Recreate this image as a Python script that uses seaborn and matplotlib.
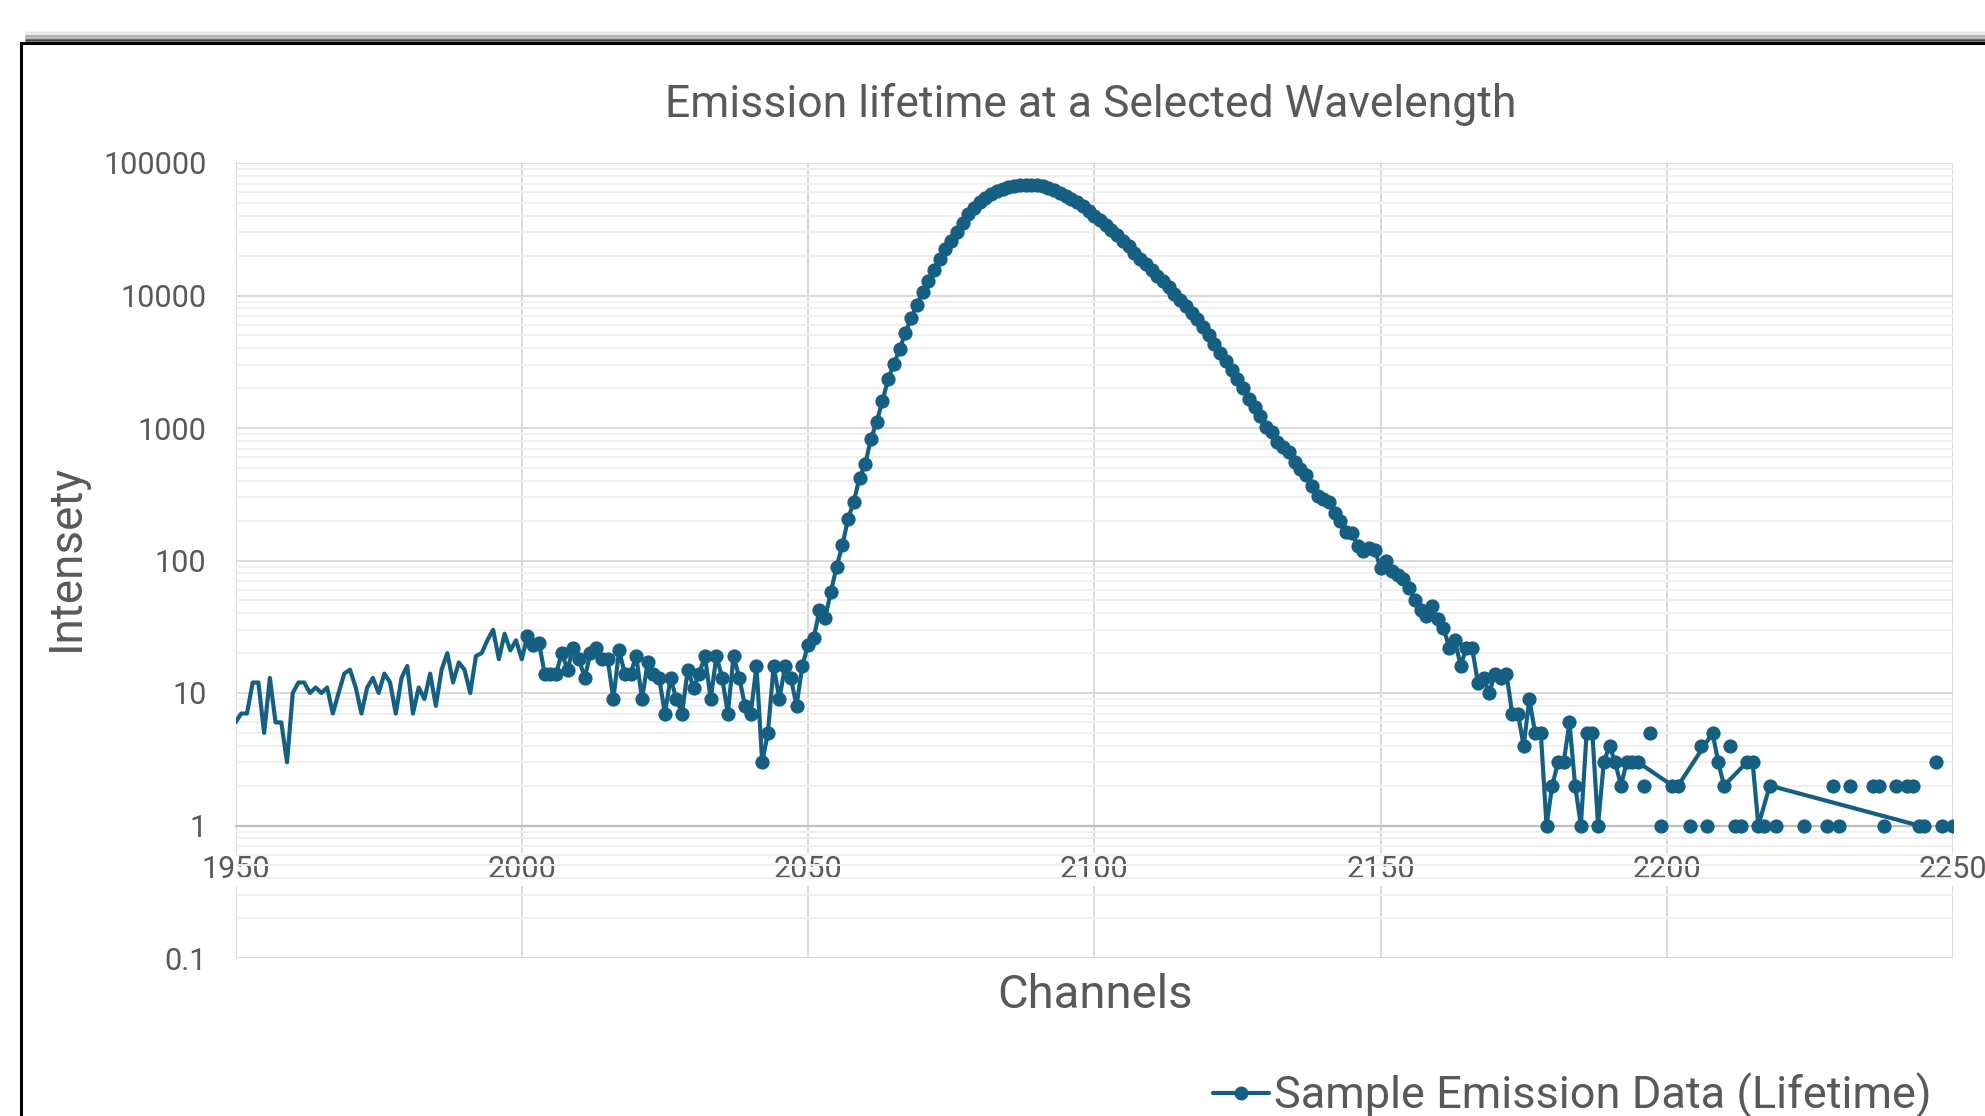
import numpy as np
import pandas as pd
import matplotlib
matplotlib.use("Agg")
import matplotlib.pyplot as plt
from matplotlib.lines import Line2D
from matplotlib.patches import Rectangle
from matplotlib.ticker import FixedLocator, FuncFormatter, LogLocator, NullFormatter
import seaborn as sns

# channel axis: one bin per channel, 1950..2250
channels = list(range(1950, 2251))

# photon counts per channel (0 = empty bin, not drawn on log axis)
counts = [
    6, 7, 7, 12, 12, 5, 13, 6, 6, 3,                      # 1950
    10, 12, 12, 10, 11, 10, 11, 7, 10, 14,                # 1960
    15, 11, 7, 11, 13, 10, 14, 12, 7, 13,                 # 1970
    16, 7, 11, 9, 14, 8, 15, 20, 12, 17,                  # 1980
    15, 10, 19, 20, 25, 30, 18, 28, 21, 25,               # 1990
    18, 27, 23, 24, 14, 14, 14, 20, 15, 22,               # 2000
    18, 13, 20, 22, 18, 18, 9, 21, 14, 14,                # 2010
    19, 9, 17, 14, 13, 7, 13, 9, 7, 15,                   # 2020
    11, 14, 19, 9, 19, 13, 7, 19, 13, 8,                  # 2030
    7, 16, 3, 5, 16, 9, 16, 13, 8, 16,                    # 2040
    23, 26, 42, 37, 58, 90, 130, 207, 277, 423,           # 2050
    533, 832, 1112, 1603, 2337, 3034, 3938, 5200, 6714, 8460,          # 2060
    10550, 12900, 15640, 18840, 22400, 25900, 30000, 35500, 41000, 46000,  # 2070
    50500, 54500, 58000, 61000, 63500, 65500, 67000, 68000, 68500, 68500,  # 2080
    68000, 66500, 64500, 62500, 59500, 56500, 53500, 50500, 47000, 43500,  # 2090
    40000, 37000, 34000, 31000, 28500, 26000, 23500, 21000, 19000, 17200,  # 2100
    15500, 14000, 12800, 11500, 10300, 9300, 8300, 7400, 6600, 5800,      # 2110
    5000, 4300, 3700, 3200, 2750, 2350, 2000, 1650, 1450, 1230,           # 2120
    1010, 930, 790, 720, 660, 550, 490, 440, 365, 305,    # 2130
    290, 275, 230, 200, 165, 160, 128, 118, 124, 120,     # 2140
    88, 99, 84, 78, 72, 62, 50, 42, 38, 45,               # 2150
    36, 31, 22, 25, 16, 22, 22, 12, 13, 10,               # 2160
    14, 13, 14, 7, 7, 4, 9, 5, 5, 1,                      # 2170
    2, 3, 3, 6, 2, 1, 5, 5, 1, 3,                         # 2180
    4, 3, 2, 3, 3, 3, 2, 5, 0, 1,                         # 2190
    0, 2, 2, 0, 1, 0, 4, 1, 5, 3,                         # 2200
    2, 4, 1, 1, 3, 3, 1, 1, 2, 1,                         # 2210
    0, 0, 0, 0, 1, 0, 0, 0, 1, 2,                         # 2220
    1, 0, 2, 0, 0, 0, 2, 2, 1, 0,                         # 2230
    2, 0, 2, 2, 1, 1, 0, 3, 1, 0,                         # 2240
    1,                                                    # 2250
]

# channels whose markers are not joined by the series line in the original
unjoined = [2196, 2197, 2199, 2204, 2206, 2207, 2211, 2212, 2213, 2217, 2219,
            2224, 2228, 2229, 2230, 2232, 2236, 2237, 2238, 2240, 2242, 2243,
            2247, 2248, 2250]

first_marker = 2001  # markers only shown from this channel on

y_ticks = [0.1, 1, 10, 100, 1000, 10000, 100000]
x_ticks = [1950, 2000, 2050, 2100, 2150, 2200, 2250]

df = pd.DataFrame({"Channel": channels, "Counts": counts})
df = df[df["Counts"] > 0]
line_df = df[~df["Channel"].isin(unjoined)]
mark_df = df[df["Channel"] >= first_marker]

blue = "#156082"
grey_txt = "#595959"

sns.set_theme(style="white")
plt.rcParams["font.family"] = ["Roboto", "DejaVu Sans"]

W, H = 1985, 1116
fig = plt.figure(figsize=(W / 100, H / 100), dpi=100)
fig.patch.set_facecolor("white")

# chart frame with a soft shadow on top (it runs off the right/bottom of the shot)
for i, a in enumerate([0.04, 0.07, 0.11, 0.16, 0.22, 0.30, 0.40, 0.52]):
    y = 1 - (32 + i * 1.3) / H
    fig.add_artist(Line2D([26 / W, 1.0], [y, y], transform=fig.transFigure,
                          color="black", alpha=a, lw=1.4))
fig.add_artist(Rectangle((21 / W, -0.1), 1.2, 1.1 - 43 / H, transform=fig.transFigure,
                         fill=False, ec="black", lw=2.2))

ax = fig.add_axes([235.5 / W, 1 - 958 / H, (1953 - 235.5) / W, (958 - 163) / H])
ax.set_facecolor("white")
ax.set_yscale("log")

sns.lineplot(data=line_df, x="Channel", y="Counts", ax=ax, color=blue, lw=3.0,
             estimator=None, legend=False, zorder=3)
sns.scatterplot(data=mark_df, x="Channel", y="Counts", ax=ax, color=blue, s=105,
                linewidth=0, legend=False, zorder=4)

ax.set_xlim(1950, 2250)
ax.set_ylim(0.1, 100000)
ax.xaxis.set_major_locator(FixedLocator(x_ticks))
ax.yaxis.set_major_locator(FixedLocator(y_ticks))
ax.yaxis.set_major_formatter(FuncFormatter(lambda v, p: f"{v:g}" if v < 1 else f"{int(round(v))}"))
ax.yaxis.set_minor_locator(LogLocator(base=10, subs=np.arange(2, 10), numticks=20))
ax.yaxis.set_minor_formatter(NullFormatter())

ax.grid(True, which="major", axis="both", color="#D9D9D9", lw=1.4, zorder=0)
ax.grid(True, which="minor", axis="y", color="#EFEFEF", lw=1.4, zorder=0)
ax.set_axisbelow(True)

for s in ["top", "right", "left"]:
    ax.spines[s].set_visible(False)
ax.spines["bottom"].set_position(("data", 1))
ax.spines["bottom"].set_color("#BFBFBF")
ax.spines["bottom"].set_linewidth(1.6)

ax.tick_params(axis="x", length=0, pad=21, labelsize=22, labelcolor=grey_txt)
ax.tick_params(axis="y", which="both", length=0, pad=21, labelsize=22, labelcolor=grey_txt)
# the category labels sit on a white box, so the vertical gridlines stop around them
for lab in ax.get_xticklabels():
    lab.set_bbox(dict(facecolor="white", edgecolor="none", pad=1.5))
ax.set_xlabel("")
ax.set_ylabel("")

fig.text(1091 / W, 1 - 104 / H, "Emission lifetime at a Selected Wavelength",
         ha="center", va="center", fontsize=32, color=grey_txt)
fig.text(1095 / W, 1 - 995 / H, "Channels", ha="center", va="center",
         fontsize=34, color=grey_txt)
fig.text(66 / W, 1 - 557 / H, "Intensety", ha="center", va="center",
         rotation=90, fontsize=33, color=grey_txt)

handle = Line2D([], [], color=blue, lw=3.0, marker="o", markersize=9)
fig.legend([handle], ["Sample Emission Data (Lifetime)"], loc="center",
           bbox_to_anchor=(1572 / W, 1 - 1096 / H), frameon=False, fontsize=32.5,
           handlelength=1.25, handletextpad=0.1, labelcolor=grey_txt,
           borderpad=0, borderaxespad=0)

fig.savefig("out.png", dpi=100, facecolor="white")
